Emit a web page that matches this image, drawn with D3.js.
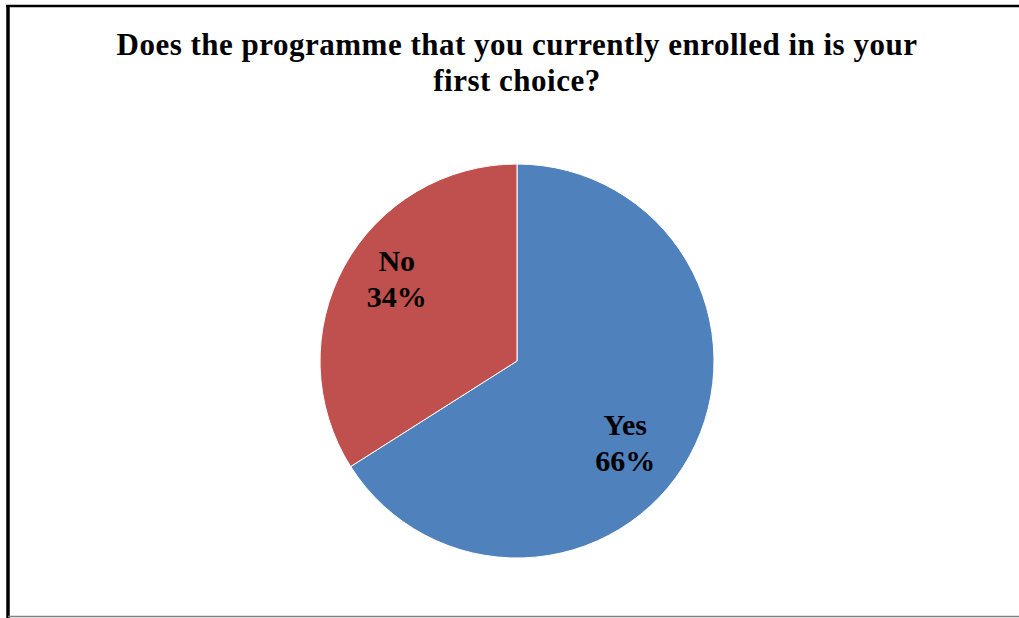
<!DOCTYPE html>
<html>
<head>
<meta charset="utf-8">
<script src="https://cdn.jsdelivr.net/npm/d3@7"></script>
<style>
  html, body { margin: 0; padding: 0; background: #fff; }
  svg { display: block; }
</style>
</head>
<body>
<svg id="chart" width="1019" height="618"></svg>
<script>
// Survey answers
const categories = ["Yes", "No"];
const values = [66, 34];
const colors = ["#4F81BD", "#C0504D"];
const titleLines = ["Does the programme that you currently enrolled in is your", "first choice?"];

const svg = d3.select("#chart");
const W = 1019, H = 618;
const serif = "'Liberation Serif', 'Times New Roman', Times, serif";

// Frame: heavy left and top edges, thin gray bottom edge
svg.append("rect").attr("x", 0).attr("y", 0).attr("width", W).attr("height", H).attr("fill", "#fff");
svg.append("line").attr("x1", 8).attr("x2", 8).attr("y1", 5).attr("y2", 618)
  .attr("stroke", "#000").attr("stroke-width", 3.5);
svg.append("line").attr("x1", 6).attr("x2", 1019).attr("y1", 6).attr("y2", 6)
  .attr("stroke", "#000").attr("stroke-width", 2.5);
svg.append("line").attr("x1", 8).attr("x2", 1019).attr("y1", 616.5).attr("y2", 616.5)
  .attr("stroke", "#808080").attr("stroke-width", 1.5);

// Title
const title = svg.append("text")
  .attr("text-anchor", "middle")
  .attr("font-family", serif)
  .attr("font-weight", "bold")
  .attr("font-size", 31)
  .attr("letter-spacing", 0.5)
  .attr("fill", "#000");
titleLines.forEach((t, i) => {
  title.append("tspan").attr("x", 517).attr("y", 55 + i * 36).text(t);
});

// Pie
const cx = 517, cy = 361, r = 197;
const pie = d3.pie().sort(null).value(d => d.value);
const arc = d3.arc().innerRadius(0).outerRadius(r);
const data = categories.map((c, i) => ({ name: c, value: values[i], color: colors[i] }));
const arcs = pie(data);

const g = svg.append("g").attr("transform", `translate(${cx},${cy})`);
g.selectAll("path").data(arcs).enter().append("path")
  .attr("d", arc)
  .attr("fill", d => d.data.color)
  .attr("stroke", "#fff")
  .attr("stroke-width", 1);

// Labels inside slices, set slightly clockwise of each slice's middle
const labelR = r * 0.715;
const nudge = 7 * Math.PI / 180;
const total = d3.sum(values);
const labels = g.selectAll("text.lbl").data(arcs).enter().append("text")
  .attr("class", "lbl")
  .attr("text-anchor", "middle")
  .attr("font-family", serif)
  .attr("font-weight", "bold")
  .attr("font-size", 30)
  .attr("fill", "#000")
  .attr("transform", d => {
    const a = (d.startAngle + d.endAngle) / 2 + nudge;
    return `translate(${labelR * Math.sin(a) - 6},${-labelR * Math.cos(a)})`;
  });
labels.append("tspan").attr("x", 0).attr("y", -8).text(d => d.data.name);
labels.append("tspan").attr("x", 0).attr("y", 28)
  .text(d => Math.round(d.data.value / total * 100) + "%");
</script>
</body>
</html>
